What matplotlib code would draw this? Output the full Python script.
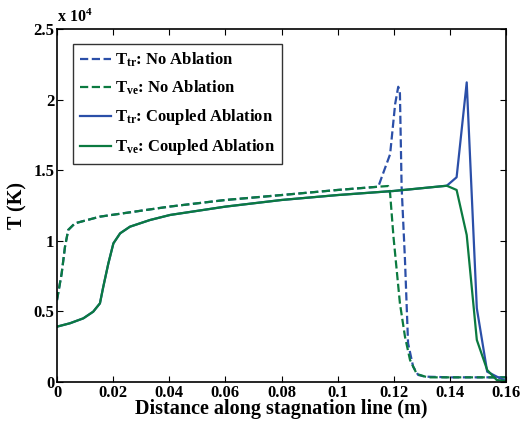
import matplotlib
matplotlib.use("Agg")
import matplotlib.pyplot as plt
from matplotlib.ticker import FuncFormatter

plt.rcParams['font.family'] = ['Liberation Serif']
plt.rcParams['font.weight'] = 'bold'
plt.rcParams['mathtext.fontset'] = 'custom'
plt.rcParams['mathtext.rm'] = 'Liberation Serif:bold'
plt.rcParams['mathtext.it'] = 'Liberation Serif:bold'
plt.rcParams['mathtext.bf'] = 'Liberation Serif:bold'

# No ablation (dashed)
x_no = [0.0, 0.00167, 0.00285, 0.004, 0.0064, 0.0153, 0.04, 0.06, 0.08, 0.10, 0.1145,
        0.118, 0.1187, 0.1199, 0.1222, 0.124, 0.1258, 0.1282, 0.132, 0.14, 0.15, 0.16]
tve_no = [5800, 7700, 9580, 10770, 11240, 11710, 12420, 12890, 13240, 13600, 13830,
          13880, 13360, 10290, 5570, 3210, 1560, 570, 330, 330, 330, 330]
x_no_tr = [0.0, 0.00167, 0.00285, 0.004, 0.0064, 0.0153, 0.04, 0.06, 0.08, 0.10, 0.1145,
           0.1157, 0.1187, 0.1205, 0.1216, 0.1222, 0.1228, 0.124, 0.1251, 0.1269, 0.1287,
           0.1311, 0.14, 0.15, 0.16]
ttr_no = [5800, 7700, 9580, 10770, 11240, 11710, 12420, 12890, 13240, 13600, 13830,
          14500, 16130, 19690, 20910, 20440, 13830, 8640, 2750, 1090, 500, 380, 330, 330, 330]

# Coupled ablation (solid)
x_cp = [0.0, 0.00463, 0.0094, 0.0129, 0.0153, 0.0165, 0.0183, 0.0201, 0.0225, 0.026,
        0.0331, 0.0403, 0.06, 0.08, 0.10, 0.12, 0.1389, 0.1424, 0.1460, 0.1496,
        0.1533, 0.1567, 0.16]
ttr_cp = [3920, 4160, 4510, 4980, 5570, 6750, 8400, 9820, 10530, 11000,
          11470, 11830, 12420, 12890, 13240, 13530, 13900, 14500, 21220, 5220,
          730, 380, 70]
tve_cp = [3920, 4160, 4510, 4980, 5570, 6750, 8400, 9820, 10530, 11000,
          11470, 11830, 12420, 12890, 13240, 13530, 13900, 13600, 10410, 2980,
          850, 140, 70]

labels = [r'$\mathrm{T_{tr}}$: No Ablation', r'$\mathrm{T_{ve}}$: No Ablation',
          r'$\mathrm{T_{tr}}$: Coupled Ablation', r'$\mathrm{T_{ve}}$: Coupled Ablation']
xticks = [0, 0.02, 0.04, 0.06, 0.08, 0.1, 0.12, 0.14, 0.16]
yticks = [0, 5000, 10000, 15000, 20000, 25000]

blue = '#2B4FA8'
green = '#0B7A40'

fig = plt.figure(figsize=(5.22, 4.23), dpi=100)
ax = fig.add_axes([57/522, 1-382/423, (506-57)/522, (382-29)/423])

ax.plot(x_no_tr, ttr_no, '--', color=blue, lw=1.6, label=labels[0])
ax.plot(x_no, tve_no, '--', color=green, lw=1.6, label=labels[1])
ax.plot(x_cp, ttr_cp, '-', color=blue, lw=1.6, label=labels[2])
ax.plot(x_cp, tve_cp, '-', color=green, lw=1.6, label=labels[3])

ax.set_xlim(0, 0.16)
ax.set_ylim(0, 25000)
ax.set_xticks(xticks)
ax.set_yticks(yticks)
ax.xaxis.set_major_formatter(FuncFormatter(lambda v, p: ('%g' % round(v, 4))))
ax.yaxis.set_major_formatter(FuncFormatter(lambda v, p: ('%g' % (v / 1e4))))
ax.tick_params(direction='in', top=True, right=True, labelsize=12, length=4, width=0.8, pad=2)
for lab in ax.get_xticklabels() + ax.get_yticklabels():
    lab.set_fontweight('bold')
for s in ax.spines.values():
    s.set_linewidth(1.2)

ax.set_xlabel('Distance along stagnation line (m)', fontsize=14.5, fontweight='bold', labelpad=-1)
ax.set_ylabel('T (K)', fontsize=14.5, fontweight='bold', labelpad=4)
ax.text(0.0, 1.008, r'x 10$^{4}$', transform=ax.transAxes, fontsize=11.5, fontweight='bold',
        ha='left', va='bottom')

leg = ax.legend(loc='upper left', bbox_to_anchor=((73-57)/449, 1-(44-29)/353),
                frameon=True, fancybox=False, edgecolor='black', fontsize=12,
                handlelength=1.85, labelspacing=0.6, borderpad=0.4, handletextpad=0.25,
                borderaxespad=0)
leg.get_frame().set_linewidth(1.0)
for t in leg.get_texts():
    t.set_fontweight('bold')

fig.savefig('out.png', dpi=100)
